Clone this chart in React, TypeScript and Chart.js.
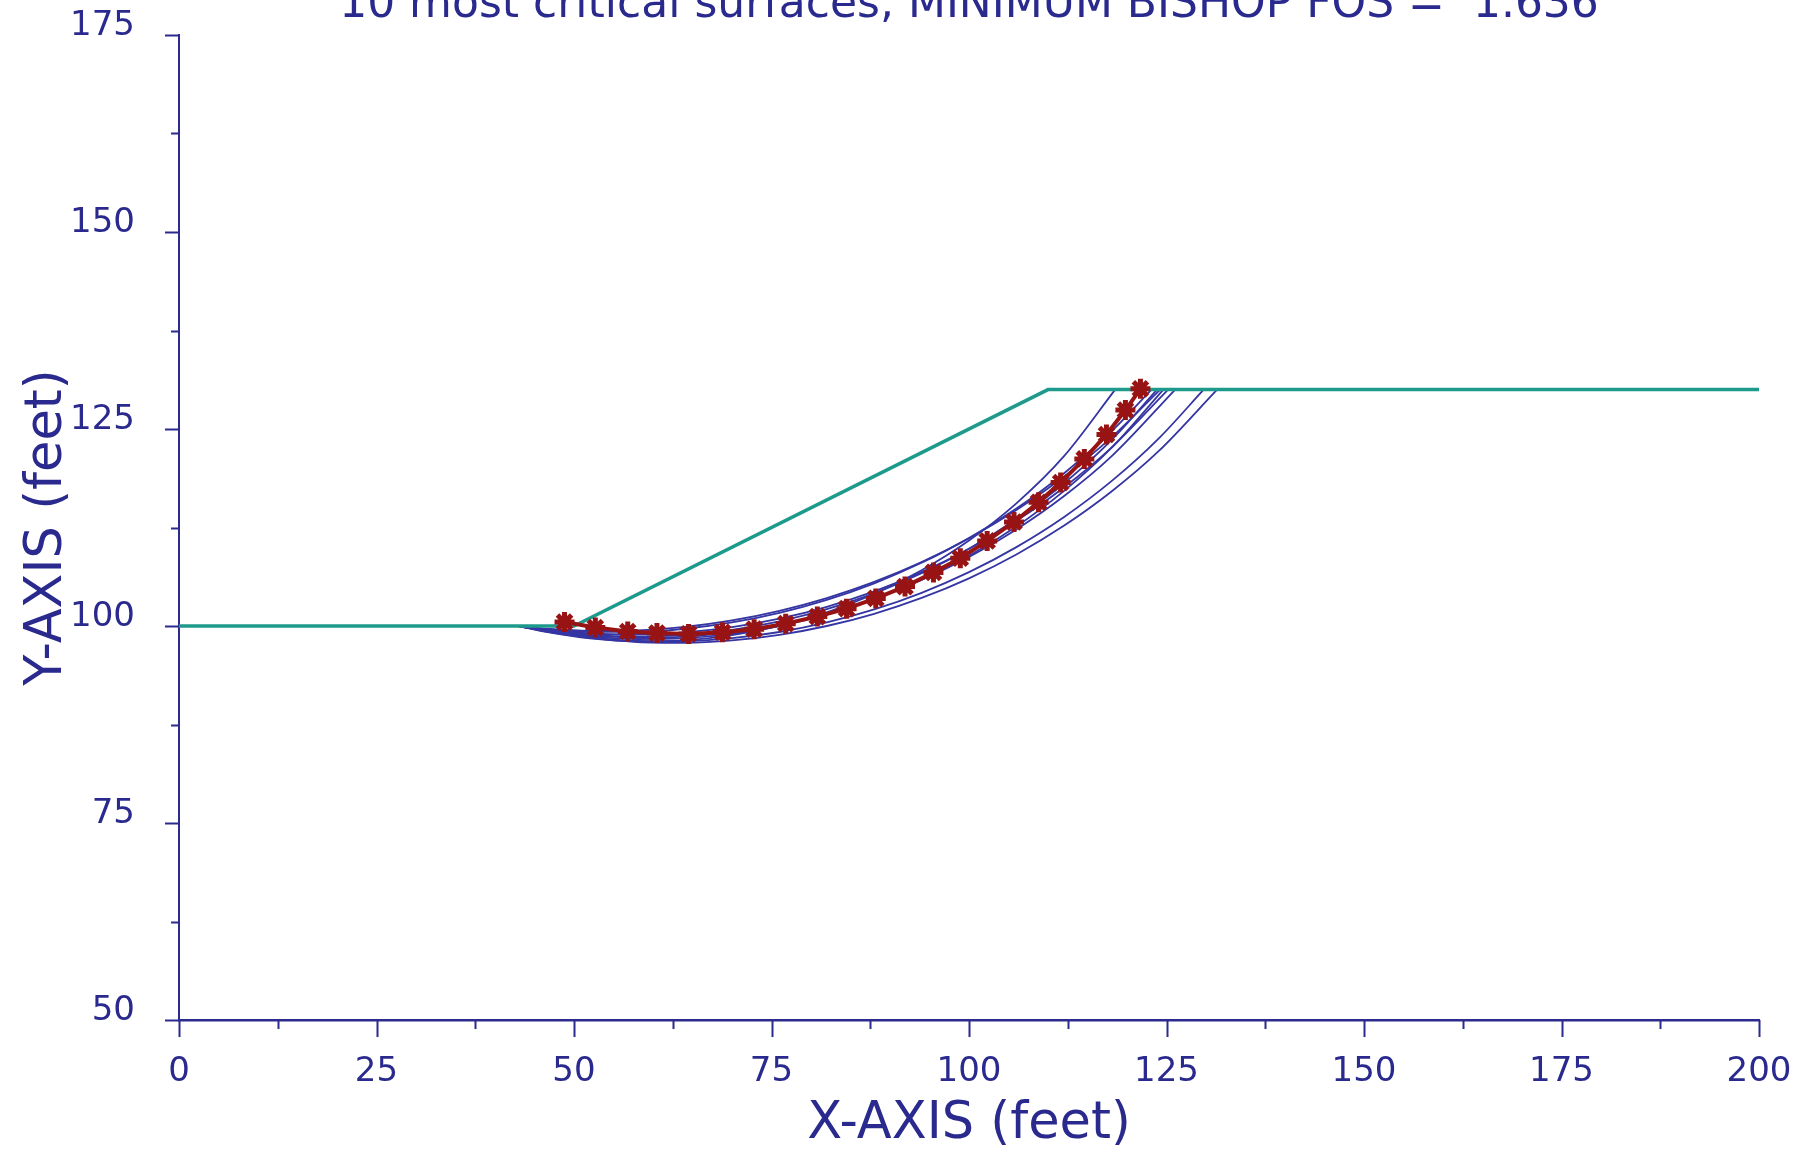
import React, { useEffect, useRef } from "react";
import { Chart, registerables } from "chart.js";

Chart.register(...registerables);

// ---------- text ----------
const TITLE = "10 most critical surfaces, MINIMUM BISHOP FOS =  1.636";
const X_TITLE = "X-AXIS (feet)";
const Y_TITLE = "Y-AXIS (feet)";

// ---------- axes ----------
const X_MIN = 0;
const X_MAX = 200;
const X_STEP = 25;
const Y_MIN = 50;
const Y_MAX = 175;
const Y_STEP = 25;
const MINOR_STEP = 12.5;

// ---------- ground profile ----------
const GROUND_X = [0, 50, 110, 200];
const GROUND_Y = [100, 100, 130, 130];

// ---------- most critical surface (with markers) ----------
const CRIT_X = [48.8, 52.7, 56.8, 60.5, 64.5, 68.8, 72.8, 76.8, 80.8, 84.5, 88.2, 91.9, 95.5, 98.9, 102.3, 105.7, 108.8, 111.6, 114.6, 117.4, 119.8, 121.7];
const CRIT_Y = [100.5, 99.8, 99.3, 99.1, 99.0, 99.2, 99.6, 100.3, 101.2, 102.2, 103.5, 105.0, 106.8, 108.6, 110.8, 113.2, 115.7, 118.2, 121.2, 124.3, 127.4, 130.1];

// ---------- other critical surfaces ----------
const S1_X = [43, 47, 52, 58, 64, 70, 76, 82, 88, 94, 100, 106, 112, 118.5];
const S1_Y = [100.0, 99.16, 98.44, 98.06, 98.18, 98.83, 100.0, 101.73, 104.06, 107.07, 110.85, 115.57, 121.52, 130.0];

const S2_X = [43, 47, 52, 58, 64, 70, 76, 82, 88, 94, 100, 106, 112, 118, 123.1];
const S2_Y = [100.0, 99.56, 99.25, 99.25, 99.65, 100.45, 101.67, 103.32, 105.42, 108.02, 111.15, 114.9, 119.36, 124.66, 130.0];

const S3_X = [43, 47, 52, 58, 64, 70, 76, 82, 88, 94, 100, 106, 112, 118, 123.8];
const S3_Y = [100.0, 99.38, 98.87, 98.66, 98.87, 99.52, 100.6, 102.13, 104.15, 106.69, 109.8, 113.57, 118.09, 123.56, 130.0];

const S4_X = [43, 47, 52, 58, 64, 70, 76, 82, 88, 94, 100, 106, 112, 118, 124.6];
const S4_Y = [100.0, 99.29, 98.68, 98.35, 98.46, 99.01, 100.0, 101.46, 103.4, 105.87, 108.92, 112.64, 117.12, 122.56, 130.0];

const S5_X = [43, 47, 52, 58, 64, 70, 76, 82, 88, 94, 100, 106, 112, 118, 125.2];
const S5_Y = [100.0, 99.46, 99.05, 98.91, 99.18, 99.85, 100.93, 102.44, 104.39, 106.83, 109.8, 113.35, 117.58, 122.61, 130.0];

const S6_X = [43, 47, 52, 58, 64, 70, 76, 82, 88, 94, 100, 106, 112, 118, 126.1];
const S6_Y = [100.0, 99.35, 98.8, 98.53, 98.66, 99.22, 100.19, 101.61, 103.48, 105.85, 108.75, 112.26, 116.46, 121.49, 130.0];

const S7_X = [43, 47, 52, 58, 64, 70, 76, 82, 88, 94, 100, 106, 112, 118, 124, 129.7];
const S7_Y = [100.0, 99.24, 98.56, 98.12, 98.09, 98.46, 99.24, 100.45, 102.1, 104.21, 106.83, 110.01, 113.81, 118.35, 123.78, 130.0];

const S8_X = [43, 47, 52, 58, 64, 70, 76, 82, 88, 94, 100, 106, 112, 118, 124, 131.4];
const S8_Y = [100.0, 99.21, 98.48, 97.97, 97.87, 98.17, 98.88, 100.0, 101.55, 103.56, 106.05, 109.08, 112.71, 117.03, 122.18, 130.0];

const S9_X = [43, 47, 52, 58, 64, 70, 76, 82, 88, 94, 100, 106, 112, 118, 124.2];
const S9_Y = [100.0, 99.62, 99.39, 99.45, 99.89, 100.71, 101.93, 103.55, 105.61, 108.12, 111.14, 114.72, 118.93, 123.9, 130.0];

const SURFACES = [
  [S1_X, S1_Y], [S2_X, S2_Y], [S3_X, S3_Y], [S4_X, S4_Y], [S5_X, S5_Y],
  [S6_X, S6_Y], [S7_X, S7_Y], [S8_X, S8_Y], [S9_X, S9_Y],
];

// ---------- style ----------
const NAVY = "#2b2b8f";
const TEXT = "#2a2a8e";
const SURFACE_BLUE = "#3535a3";
const TEAL = "#1e9a8c";
const CRIT_RED = "#981414";
const FONT = '"DejaVu Sans", "Liberation Sans", sans-serif';

const pts = (xs: number[], ys: number[]) => xs.map((x, i) => ({ x, y: ys[i] }));

const noScalePadding = (s: any) => {
  s.paddingTop = 0;
  s.paddingBottom = 0;
  s.paddingLeft = 0;
  s.paddingRight = 0;
};

const decorPlugin = {
  id: "decor",
  afterDraw(chart: any) {
    const { ctx, chartArea, scales } = chart;
    const xs = scales.x;
    const ys = scales.y;
    ctx.save();
    ctx.strokeStyle = NAVY;
    ctx.lineWidth = 2;
    const yBase = ys.getPixelForValue(Y_MIN);
    const xBase = xs.getPixelForValue(X_MIN);
    ctx.beginPath();
    for (let v = X_MIN; v <= X_MAX + 1e-9; v += MINOR_STEP) {
      const major = Math.abs(v / X_STEP - Math.round(v / X_STEP)) < 1e-6;
      const px = Math.round(xs.getPixelForValue(v)) + 0.5;
      ctx.moveTo(px, yBase);
      ctx.lineTo(px, yBase + (major ? 17 : 9));
    }
    for (let v = Y_MIN; v <= Y_MAX + 1e-9; v += MINOR_STEP) {
      const major = Math.abs(v / Y_STEP - Math.round(v / Y_STEP)) < 1e-6;
      const py = Math.round(ys.getPixelForValue(v)) + 0.5;
      ctx.moveTo(xBase, py);
      ctx.lineTo(xBase - (major ? 14 : 8), py);
    }
    ctx.stroke();

    ctx.fillStyle = TEXT;
    ctx.font = `44px ${FONT}`;
    ctx.textAlign = "center";
    ctx.textBaseline = "alphabetic";
    ctx.fillText(TITLE, (chartArea.left + chartArea.right) / 2, 17);
    ctx.restore();
  },
};

export default function App() {
  const canvasRef = useRef<HTMLCanvasElement | null>(null);

  useEffect(() => {
    const canvas = canvasRef.current;
    if (!canvas) return;

    const datasets: any[] = [
      {
        label: "critical",
        data: pts(CRIT_X, CRIT_Y),
        borderColor: CRIT_RED,
        backgroundColor: CRIT_RED,
        borderWidth: 4,
        pointStyle: "star",
        pointRadius: 10,
        pointBorderWidth: 5,
        pointBorderColor: CRIT_RED,
        tension: 0,
      },
      {
        label: "ground",
        data: pts(GROUND_X, GROUND_Y),
        borderColor: TEAL,
        borderWidth: 3.5,
        pointRadius: 0,
        tension: 0,
      },
      ...SURFACES.map(([xs, ys], i) => ({
        label: `surface ${i + 1}`,
        data: pts(xs, ys),
        borderColor: SURFACE_BLUE,
        borderWidth: 1.8,
        pointRadius: 0,
        cubicInterpolationMode: "monotone",
      })),
    ];

    const chart = new Chart(canvas, {
      type: "line",
      data: { datasets },
      options: {
        animation: false,
        responsive: false,
        devicePixelRatio: 1,
        clip: false,
        layout: { padding: { left: 0, right: 55, top: 35, bottom: 0 } },
        plugins: {
          legend: { display: false },
          tooltip: { enabled: false },
          title: { display: false },
        },
        scales: {
          x: {
            type: "linear",
            min: X_MIN,
            max: X_MAX,
            grid: { display: false, drawTicks: false },
            border: { display: true, color: NAVY, width: 2.5 },
            ticks: {
              stepSize: X_STEP,
              color: TEXT,
              font: { family: FONT, size: 34 },
              padding: 32,
              maxRotation: 0,
              autoSkip: false,
            },
            title: {
              display: true,
              text: X_TITLE,
              color: TEXT,
              font: { family: FONT, size: 51, lineHeight: 1 },
              padding: { top: 0, bottom: 5 },
            },
            afterFit: (s: any) => { s.height = 135; noScalePadding(s); },
          },
          y: {
            type: "linear",
            min: Y_MIN,
            max: Y_MAX,
            grid: { display: false, drawTicks: false },
            border: { display: true, color: NAVY, width: 2 },
            ticks: {
              stepSize: Y_STEP,
              color: TEXT,
              font: { family: FONT, size: 34 },
              padding: 44,
              labelOffset: -9,
            },
            title: {
              display: true,
              text: Y_TITLE,
              color: TEXT,
              font: { family: FONT, size: 51, lineHeight: 1 },
              padding: { top: 22, bottom: 0 },
            },
            afterFit: (s: any) => { s.width = 179; noScalePadding(s); },
          },
        },
      } as any,
      plugins: [decorPlugin],
    });

    return () => chart.destroy();
  }, []);

  return (
    <canvas
      ref={canvasRef}
      width={1814}
      height={1155}
      style={{ position: "fixed", left: 0, top: 0, width: 1814, height: 1155, background: "#fff" }}
    />
  );
}
